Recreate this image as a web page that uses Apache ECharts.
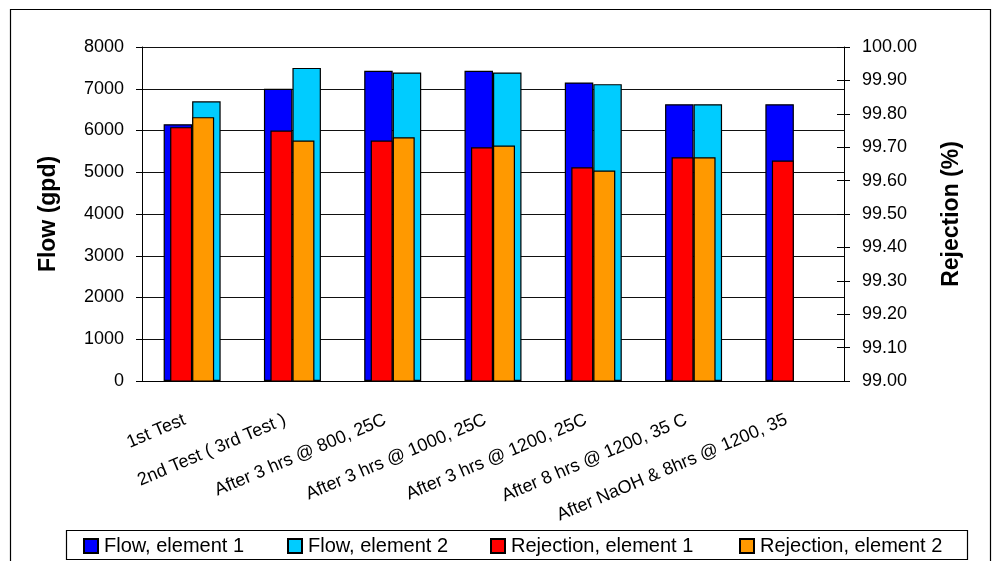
<!DOCTYPE html>
<html>
<head>
<meta charset="utf-8">
<script src="https://cdn.jsdelivr.net/npm/echarts@6/dist/echarts.min.js"></script>
<style>
  html, body { margin: 0; padding: 0; background: #fff; }
  #chart { width: 995px; height: 561px; }
</style>
</head>
<body>
<div id="chart"></div>
<script>
// Test stages along the x axis
const categories = [
  '1st Test',
  '2nd Test ( 3rd Test )',
  'After 3 hrs @ 800, 25C',
  'After 3 hrs @ 1000, 25C',
  'After 3 hrs @ 1200, 25C',
  'After 8 hrs @ 1200, 35 C',
  'After NaOH & 8hrs @ 1200, 35'
];

// Permeate flow (gpd)
const flowElement1 = [6150, 7000, 7430, 7430, 7150, 6630, 6630];
const flowElement2 = [6700, 7500, 7390, 7390, 7110, 6630, null];

// Salt rejection (%)
const rejectionElement1 = [99.76, 99.75, 99.72, 99.70, 99.64, 99.67, 99.66];
const rejectionElement2 = [99.79, 99.72, 99.73, 99.705, 99.63, 99.67, null];

// Axis ranges
const flowMin = 0, flowMax = 8000, flowStep = 1000;
const rejMin = 99, rejMax = 100, rejStep = 0.1;

// Legend entries and where each one starts
const legendNames = ['Flow, element 1', 'Flow, element 2', 'Rejection, element 1', 'Rejection, element 2'];
const legendLeft = [83, 287, 490, 739];

const FONT = "'Liberation Sans', Arial, sans-serif";
const chart = echarts.init(document.getElementById('chart'));

const barBorder = { borderColor: '#000', borderWidth: 1.2 };

chart.setOption({
  animation: false,
  backgroundColor: '#fff',
  grid: { left: 142, right: 151, top: 47, bottom: 180, containLabel: false },
  legend: legendNames.map((name, i) => ({
    left: legendLeft[i],
    top: 536,
    padding: 0,
    icon: 'rect',
    itemWidth: 14,
    itemHeight: 14,
    itemGap: 0,
    textStyle: { fontFamily: FONT, fontSize: 20, color: '#000', padding: [0, 0, 0, 1] },
    data: [name]
  })),
  xAxis: [
    {
      type: 'category',
      data: categories,
      axisLine: { lineStyle: { color: '#000', width: 1 } },
      axisTick: { length: 7, lineStyle: { color: '#000' } },
      axisLabel: {
        interval: 0,
        rotate: 23,
        margin: 35,
        padding: [0, 8, 0, 0],
        fontFamily: FONT,
        fontSize: 18,
        color: '#000'
      }
    },
    {
      type: 'category',
      data: categories,
      position: 'bottom',
      show: false
    }
  ],
  yAxis: [
    {
      type: 'value',
      min: flowMin, max: flowMax, interval: flowStep,
      name: 'Flow (gpd)',
      nameLocation: 'middle',
      nameGap: 82,
      nameRotate: 90,
      nameTextStyle: { fontFamily: FONT, fontSize: 23, fontWeight: 'bold', color: '#000' },
      axisLine: { show: true, lineStyle: { color: '#000' } },
      axisTick: { show: true, length: 6, lineStyle: { color: '#000' } },
      axisLabel: { margin: 18, fontFamily: FONT, fontSize: 18, color: '#000', formatter: v => String(v) },
      splitLine: { show: true, lineStyle: { color: '#111', width: 1 } }
    },
    {
      type: 'value',
      position: 'right',
      min: rejMin, max: rejMax, interval: rejStep,
      name: 'Rejection (%)',
      nameLocation: 'middle',
      nameGap: 96,
      nameRotate: 90,
      nameTextStyle: { fontFamily: FONT, fontSize: 23, fontWeight: 'bold', color: '#000' },
      axisLine: { show: true, lineStyle: { color: '#000' } },
      axisTick: { show: true, length: 6, lineStyle: { color: '#000' } },
      axisLabel: {
        margin: 18, fontFamily: FONT, fontSize: 18, color: '#000',
        formatter: v => v.toFixed(2)
      },
      splitLine: { show: false }
    },
    {
      // inner half of the crossing tick marks on the rejection axis
      type: 'value',
      position: 'right',
      min: rejMin, max: rejMax, interval: rejStep,
      axisLine: { show: false },
      axisTick: { show: true, inside: true, length: 7, lineStyle: { color: '#000' } },
      axisLabel: { show: false },
      splitLine: { show: false }
    }
  ],
  series: [
    {
      name: 'Flow, element 1', type: 'bar', xAxisIndex: 0, yAxisIndex: 0,
      data: flowElement1, barWidth: 28.5, barGap: '0%',
      itemStyle: Object.assign({ color: '#0000FF' }, barBorder)
    },
    {
      name: 'Flow, element 2', type: 'bar', xAxisIndex: 0, yAxisIndex: 0,
      data: flowElement2, barWidth: 28.5, barGap: '0%',
      itemStyle: Object.assign({ color: '#00CCFF' }, barBorder)
    },
    {
      name: 'Rejection, element 1', type: 'bar', xAxisIndex: 1, yAxisIndex: 1,
      data: rejectionElement1, barWidth: 22, barGap: '0%',
      itemStyle: Object.assign({ color: '#FF0000' }, barBorder)
    },
    {
      name: 'Rejection, element 2', type: 'bar', xAxisIndex: 1, yAxisIndex: 1,
      data: rejectionElement2, barWidth: 22, barGap: '0%',
      itemStyle: Object.assign({ color: '#FF9900' }, barBorder)
    }
  ],
  graphic: [
    {
      type: 'rect', z: -1, silent: true,
      shape: { x: 10.5, y: 9.5, width: 980, height: 570 },
      style: { fill: 'none', stroke: '#000', lineWidth: 1.2 }
    },
    {
      type: 'rect', z: -1, silent: true,
      shape: { x: 66.5, y: 530.5, width: 901, height: 29 },
      style: { fill: '#fff', stroke: '#000', lineWidth: 1.2 }
    }
  ]
});
</script>
</body>
</html>
